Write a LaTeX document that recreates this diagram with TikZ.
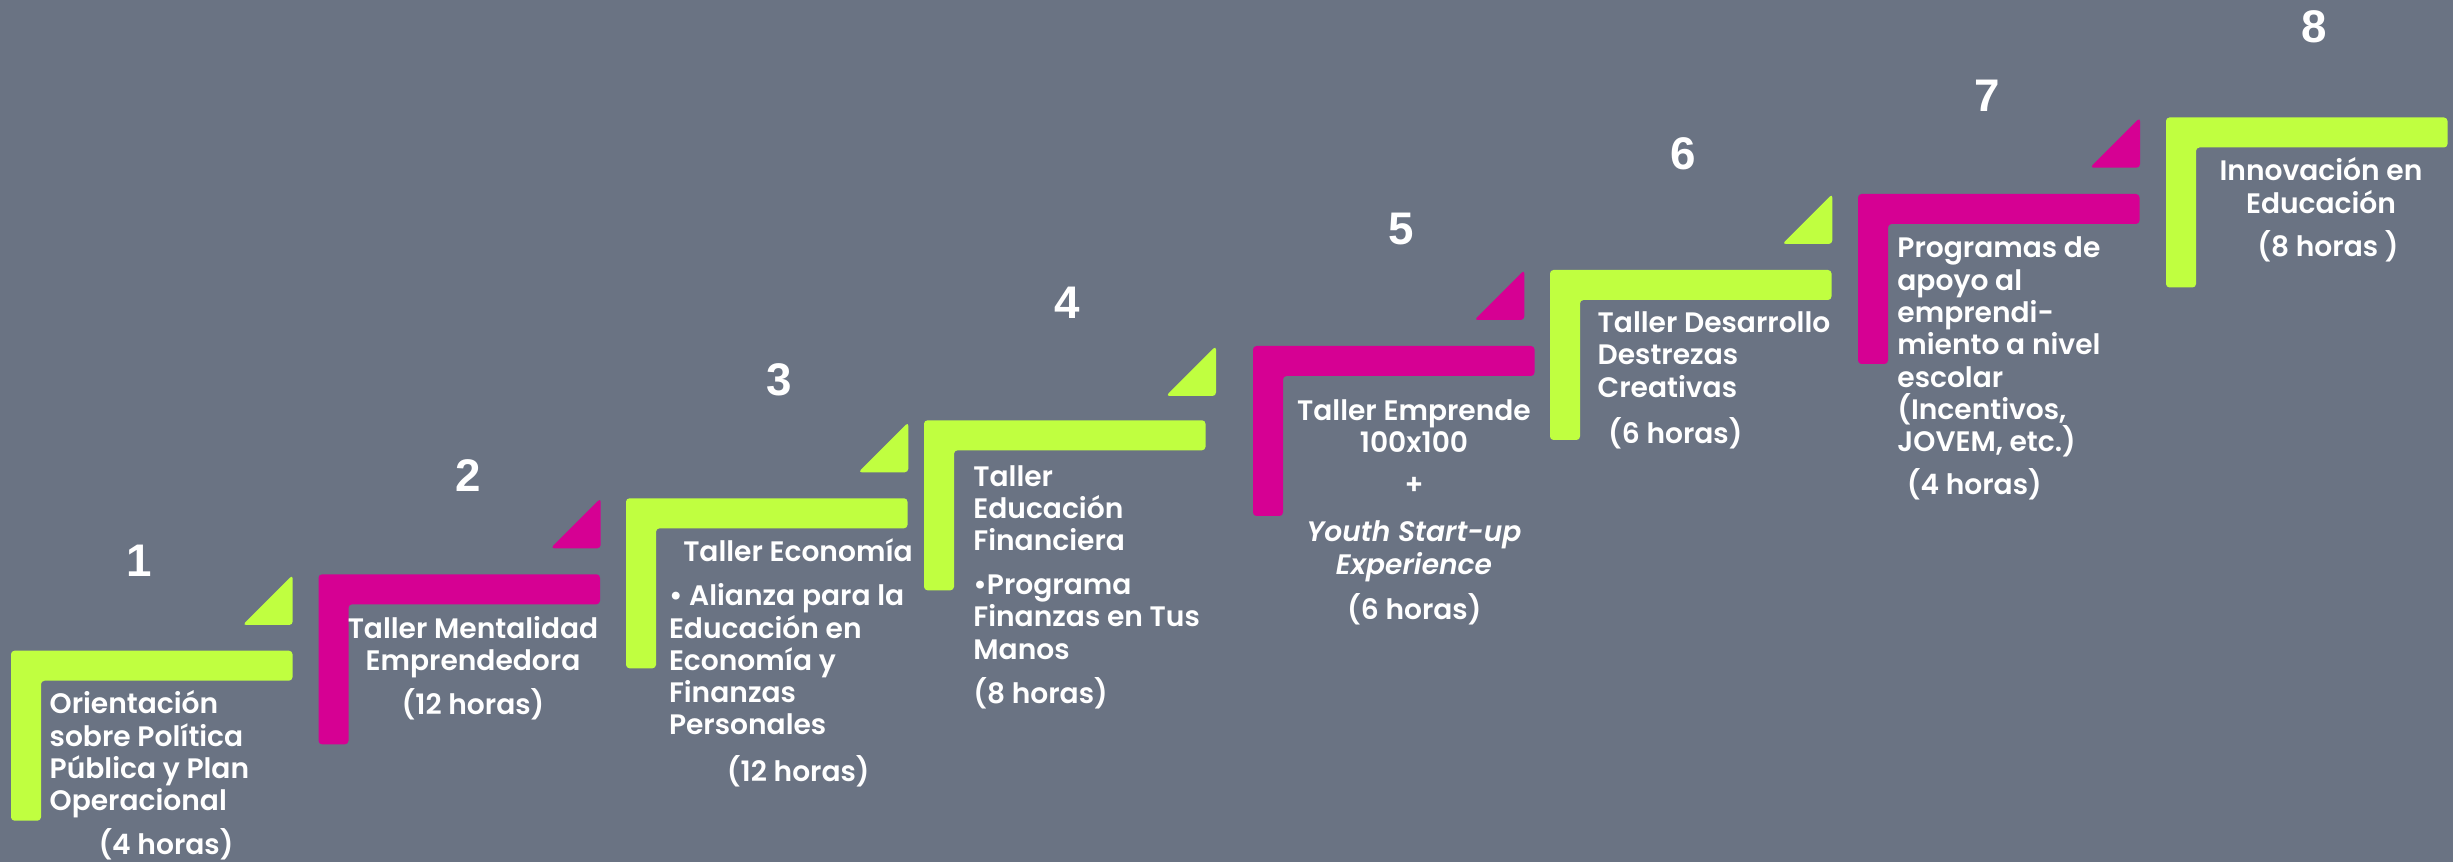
\documentclass[tikz,border=0pt]{standalone}
\usepackage{fontspec}
\setmainfont{Poppins}[BoldFont={Poppins SemiBold},BoldItalicFont={Poppins SemiBold Italic}]
\newfontfamily\cifras{Liberation Sans}
\usepackage{tikz}
\newcommand{\lb}{281.5}
\newcommand{\gb}{30}
\newcommand{\hb}{170}
\newcommand{\tr}{50}
\definecolor{verdelima}{RGB}{192,255,64}
\definecolor{magentapaso}{RGB}{214,0,147}
\definecolor{grisfondo}{RGB}{106,115,131}
\tikzstyle{peldano}=[rounded corners=1pt]
\tikzstyle{cifra}=[text=white,inner sep=0pt,font=\cifras\bfseries\fontsize{13}{13}\selectfont]
\tikzstyle{texto}=[text=white,inner sep=0pt,font=\bfseries\fontsize{8.0}{9.19}\selectfont]

\begin{document}
\begin{tikzpicture}[x=0.01cm,y=-0.01cm]

\useasboundingbox (0,0) rectangle (2453,862);
\fill[grisfondo] (0,0) rectangle (2453,862);

% escalones
\foreach \x/\y/\c in {11/650.7/verdelima, 318.5/574.3/magentapaso, 626/498.3/verdelima, 924/420.3/verdelima,
  1253/346/magentapaso, 1550/270/verdelima, 1858/194/magentapaso, 2166/117.5/verdelima}
  \fill[peldano,\c,shift={(\x,\y)}] (0,0) -- (\lb,0) -- (\lb,\gb) -- (\gb,\gb) -- (\gb,\hb) -- (0,\hb) -- cycle;

% triangulos
\foreach \x/\y/\c in {292.7/575/verdelima, 600.7/498.3/magentapaso, 908.3/422.3/verdelima, 1216/346/verdelima,
  1524.3/270/magentapaso, 1832.3/194/verdelima, 2140/117.7/magentapaso}
  \fill[peldano,\c,shift={(\x,\y)}] (0,0) -- (0,\tr) -- (-\tr,\tr) -- cycle;

\foreach \i/\x/\y in {1/139/561, 2/468.3/475.5, 3/779/380, 4/1067.3/303, 5/1401.7/229, 6/1683.3/154, 7/1986.7/96, 8/2314.3/27}
  \node[cifra] (n\i) at (\x,\y) {\i};

% textos (base = ultima linea)
\node[texto,align=left,anchor=base west] (t1) at (49,810.7) {Orientación\\sobre Política\\Pública y Plan\\Operacional};
\node[texto,anchor=base] (h1) at (166,855) {(4 horas)};

\node[texto,align=center,anchor=base] (t2) at (473,671) {Taller Mentalidad\\Emprendedora};
\node[texto,anchor=base] (h2) at (473,715) {(12 horas)};

\node[texto,anchor=base] (t3) at (798,561.7) {Taller Economía};
\node[texto,align=left,anchor=base west] (b3) at (668.3,735) {• Alianza para la\\Educación en\\Economía y\\Finanzas\\Personales};
\node[texto,anchor=base] (h3) at (798.3,781.7) {(12 horas)};

\node[texto,align=left,anchor=base west] (t4) at (972.7,551) {Taller\\Educación\\Financiera};
\node[texto,align=left,anchor=base west] (b4) at (972.7,659.3) {•Programa\\Finanzas en Tus\\Manos};
\node[texto,anchor=base west] (h4) at (972.7,704) {(8 horas)};

\node[texto,align=center,anchor=base] (t5) at (1414,452.7) {Taller Emprende\\100x100};
\node[texto,anchor=base] (mas5) at (1414,495) {+};
\node[texto,align=center,anchor=base,font=\bfseries\itshape\fontsize{8.0}{9.19}\selectfont] (b5) at (1414,574.3) {Youth Start-up\\Experience};
\node[texto,anchor=base] (h5) at (1414.3,620) {(6 horas)};

\node[texto,align=left,anchor=base west] (t6) at (1597,397.3) {Taller Desarrollo\\Destrezas\\Creativas};
\node[texto,anchor=base] (h6) at (1675.3,443.3) {(6 horas)};

\node[texto,align=left,anchor=base west] (t7) at (1896.7,451.7) {Programas de\\apoyo al\\emprendi-\\miento a nivel\\escolar\\(Incentivos,\\JOVEM, etc.)};
\node[texto,anchor=base] (h7) at (1974.3,495) {(4 horas)};

\node[texto,align=center,anchor=base] (t8) at (2321,213.3) {Innovación en\\Educación};
\node[texto,anchor=base] (h8) at (2328,256.7) {(8 horas )};

\end{tikzpicture}
\end{document}
